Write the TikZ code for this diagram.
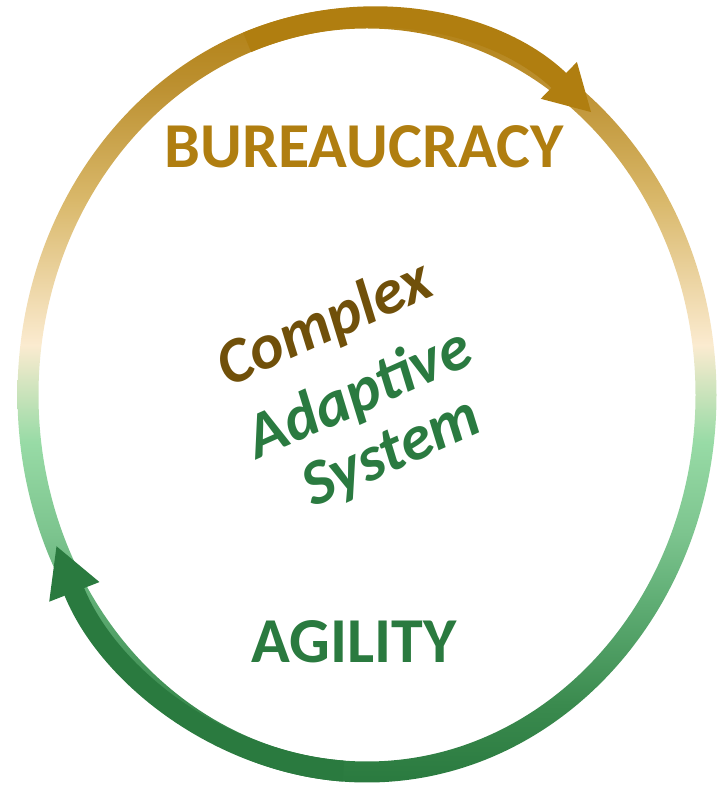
\documentclass[tikz,border=0pt]{standalone}
\usepackage{fontspec}
\setmainfont{Carlito}
\usetikzlibrary{arrows.meta,calc}
\definecolor{goldA}{HTML}{B07E10}
\definecolor{goldB}{HTML}{BC9030}
\definecolor{tanA}{HTML}{D9B86A}
\definecolor{creamA}{HTML}{FBEBD0}
\definecolor{lgreen}{HTML}{98DBA6}
\definecolor{mgreenA}{HTML}{7CC48E}
\definecolor{mgreenB}{HTML}{60AE75}
\definecolor{dgreenB}{HTML}{3A8A4E}
\definecolor{dgreen}{HTML}{2A7A3F}
\definecolor{brownT}{HTML}{70500A}
\definecolor{greenT}{HTML}{2A7A40}
\pgfdeclareverticalshading{ringshade}{100bp}{%
  color(0bp)=(dgreen); color(25bp)=(dgreen); color(30bp)=(dgreenB);
  color(36.8bp)=(mgreenB); color(41bp)=(mgreenA); color(47bp)=(lgreen);
  color(53.2bp)=(creamA); color(62.6bp)=(tanA); color(70bp)=(goldB);
  color(75bp)=(goldA); color(100bp)=(goldA)}
\tikzset{
  bigtitle/.style={font=\fontsize{64}{70}\selectfont\bfseries, anchor=base, inner sep=0pt},
  slanted/.style={font=\fontsize{64}{70}\selectfont\bfseries\itshape, anchor=base, rotate=24, inner sep=0pt},
  overlay arc/.style={line width=21pt},
}
\begin{document}
\begin{tikzpicture}[x=1pt,y=1pt]
\useasboundingbox (0,0) rectangle (720,785);
\coordinate (ctr) at (367,390);
% gradient ring
\shade[shading=ringshade, even odd rule]
  (ctr) ellipse [x radius=349.5, y radius=387.5]
  (ctr) ellipse [x radius=328.5, y radius=366.5];
% top arrow
\coordinate (topstart) at ($(ctr)+({339*cos(110.7)},{377*sin(110.7)})$);
\draw[overlay arc, draw=goldA, -{Triangle[length=46pt,width=48pt]}]
  (topstart) arc[start angle=110.7, end angle=48.5, x radius=339, y radius=377];
% bottom arrow
\coordinate (botstart) at ($(ctr)+({339*cos(266)},{377*sin(266)})$);
\draw[overlay arc, draw=dgreen, -{Triangle[length=50pt,width=50pt]}]
  (botstart) arc[start angle=266, end angle=203.5, x radius=339, y radius=377];
% labels
\node[bigtitle, text=goldA] (bur) at (364,617) {BUREAUCRACY};
\node[bigtitle, text=dgreen] (agi) at (354,122) {AGILITY};
\node[slanted, text=brownT] (cpx) at (332,444) {Complex};
\node[slanted, text=greenT] (adp) at (367,374) {Adaptive};
\node[slanted, text=greenT] (sys) at (399,316) {System};
\end{tikzpicture}
\end{document}
